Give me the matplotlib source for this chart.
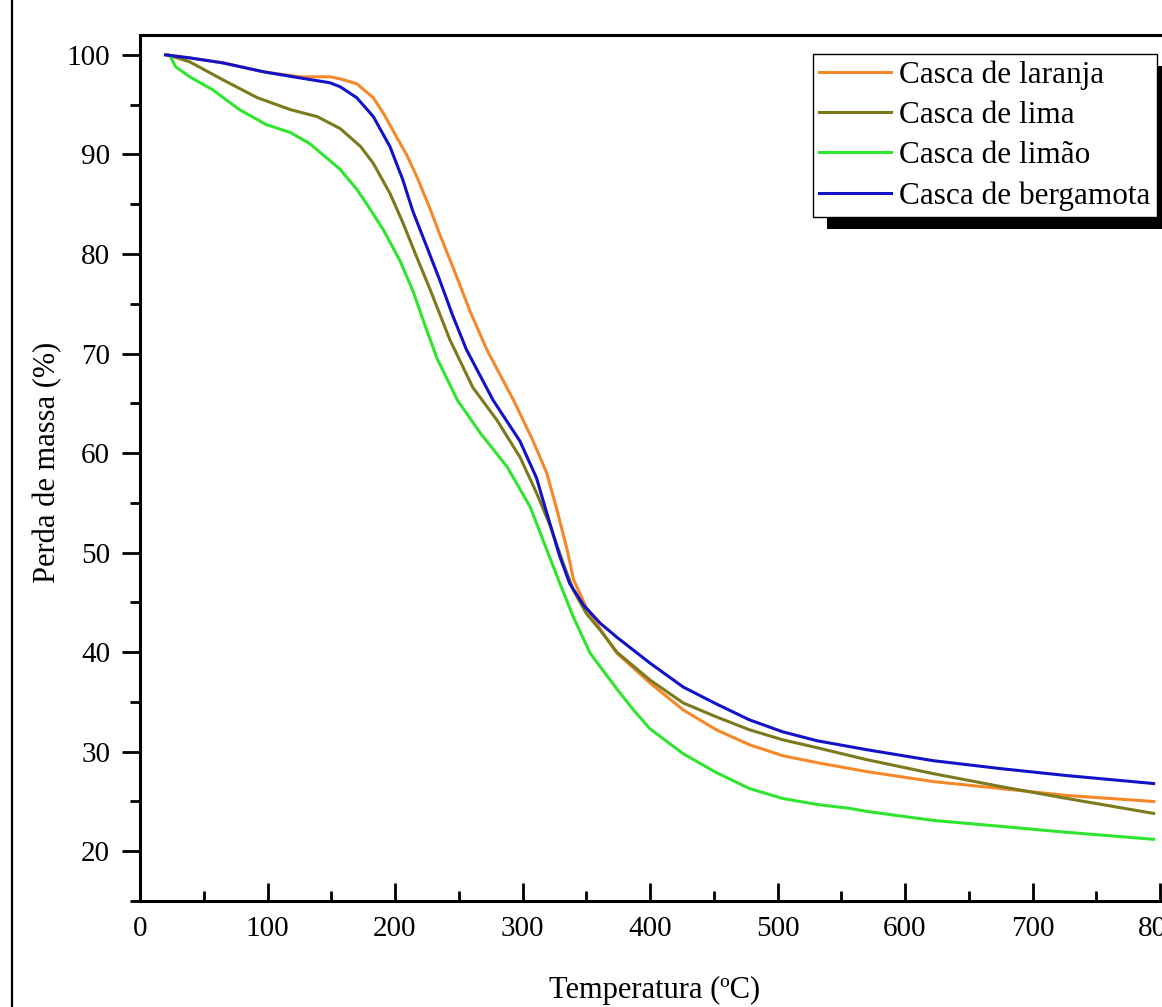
import matplotlib
matplotlib.use("Agg")
import matplotlib.pyplot as plt
from matplotlib.lines import Line2D
from matplotlib.patches import Rectangle
from matplotlib.transforms import IdentityTransform
from matplotlib.ticker import MultipleLocator

plt.rcParams['font.family'] = ['Liberation Serif', 'DejaVu Serif']

# Thermogravimetric curves: temperature (ºC) vs. remaining mass (%)
t_laranja = [20, 39, 65, 97, 125, 149, 157, 170, 183, 192, 201, 209, 217, 227, 235, 246, 259, 272,
             293, 308, 319, 327, 335, 340, 350, 361, 374, 400, 426, 452, 478, 504, 531, 557, 570, 622,
             675, 727, 795]
m_laranja = [100, 99.7, 99.2, 98.3, 97.8, 97.8, 97.6, 97.1, 95.7, 93.9, 91.8, 90.0, 87.8, 84.7, 82.0,
             78.5, 74.2, 70.4, 65.3, 61.3, 58.0, 54.3, 50.3, 47.3, 44.5, 42.3, 39.9, 36.9, 34.2, 32.2,
             30.7, 29.6, 28.9, 28.3, 28.0, 27.0, 26.3, 25.6, 25.0]

t_lima = [22, 39, 65, 92, 118, 139, 157, 173, 183, 196, 206, 217, 227, 235, 243, 261, 280, 298, 311,
          322, 332, 340, 350, 361, 374, 400, 426, 452, 478, 504, 531, 557, 570, 622, 675, 727, 795]
m_lima = [100, 99.3, 97.5, 95.7, 94.5, 93.8, 92.6, 90.8, 89.1, 86.1, 83.2, 79.7, 76.6, 74.0, 71.4,
          66.6, 63.3, 59.6, 56.0, 52.6, 48.9, 46.2, 43.9, 42.2, 40.0, 37.2, 34.9, 33.5, 32.2, 31.2,
          30.4, 29.6, 29.2, 27.8, 26.5, 25.3, 23.8]

t_limao = [24, 26, 28, 39, 57, 78, 99, 118, 133, 146, 157, 170, 178, 191, 204, 214, 225, 233, 249,
           267, 288, 306, 319, 329, 340, 353, 374, 387, 400, 426, 452, 478, 504, 531, 557, 570, 622,
           675, 727, 795]
m_limao = [99.8, 99.3, 98.8, 97.8, 96.5, 94.5, 93.0, 92.2, 91.1, 89.7, 88.5, 86.5, 85.0, 82.4, 79.3,
           76.3, 72.3, 69.5, 65.3, 62.0, 58.6, 54.6, 50.3, 47.0, 43.5, 39.9, 36.3, 34.2, 32.3, 29.8,
           27.9, 26.3, 25.3, 24.7, 24.3, 24.0, 23.1, 22.5, 21.9, 21.2]

t_bergamota = [20, 39, 65, 97, 125, 149, 157, 170, 183, 196, 206, 214, 225, 235, 245, 256, 277, 298,
               311, 319, 329, 337, 348, 361, 374, 400, 426, 452, 478, 504, 531, 557, 570, 622, 675,
               727, 795]
m_bergamota = [100, 99.7, 99.2, 98.3, 97.7, 97.2, 96.8, 95.7, 93.8, 90.8, 87.5, 84.3, 80.7, 77.4,
               73.9, 70.4, 65.3, 61.2, 57.5, 54.0, 49.7, 46.9, 44.7, 42.9, 41.5, 38.9, 36.5, 34.8,
               33.2, 32.0, 31.1, 30.5, 30.2, 29.1, 28.3, 27.6, 26.8]

series = [
    ("Casca de laranja", t_laranja, m_laranja, "#f7882a"),
    ("Casca de lima", t_lima, m_lima, "#7c7a1c"),
    ("Casca de limão", t_limao, m_limao, "#2fe62f"),
    ("Casca de bergamota", t_bergamota, m_bergamota, "#1212c8"),
]

W, H = 1162, 1007
fig = plt.figure(figsize=(W / 100, H / 100), dpi=100)
ax = fig.add_axes([140 / W, 1 - 901 / H, 1045.5 / W, 866 / H])

for label, t, m, c in series:
    ax.plot(t, m, color=c, lw=2.2, label=label, solid_joinstyle='round')

ax.set_xlim(0, 820)
ax.set_ylim(15, 102)

ax.xaxis.set_major_locator(MultipleLocator(100))
ax.xaxis.set_minor_locator(MultipleLocator(50))
ax.yaxis.set_major_locator(MultipleLocator(10))
ax.yaxis.set_minor_locator(MultipleLocator(5))
ax.set_yticks(range(20, 101, 10))

for s in ax.spines.values():
    s.set_linewidth(2.2)
ax.spines['right'].set_visible(False)

ax.tick_params(axis='x', which='major', direction='in', length=13, width=2, pad=11, labelsize=21)
ax.tick_params(axis='x', which='minor', direction='in', length=7, width=2)
ax.tick_params(axis='y', which='major', direction='out', length=13, width=2, pad=8.5, labelsize=21)
ax.tick_params(axis='y', which='minor', direction='out', length=7, width=2)
ax.tick_params(top=False, right=False, which='both')

ax.set_xlabel("Temperatura (ºC)", fontsize=22)
ax.set_ylabel("Perda de massa (%)", fontsize=22)
ax.xaxis.set_label_coords(0.4924, -0.086)
ax.yaxis.set_label_coords(-0.0746, 0.507)

leg = ax.legend(loc='upper left', bbox_to_anchor=(813 / W, 1 - 54 / H),
                bbox_transform=fig.transFigure, borderaxespad=0, fontsize=22.5,
                frameon=True, fancybox=False, edgecolor='black', framealpha=1,
                handlelength=2.3, handletextpad=0.25, borderpad=0.2, labelspacing=0.36)
leg.get_frame().set_linewidth(1.0)
leg.set_zorder(6)

# solid black drop shadow behind the legend box
fig.canvas.draw()
bb = leg.get_window_extent()
shadow = Rectangle((bb.x0 + 14, bb.y0 - 12), bb.width, bb.height, transform=IdentityTransform(),
                   facecolor='black', edgecolor='none', zorder=5.5, clip_on=False)
ax.add_artist(shadow)

# outer frame line at the left
fig.add_artist(Line2D([12 / W, 12 / W], [0, 1], transform=fig.transFigure, color='black', lw=1.6))

fig.savefig("out.png", dpi=100)
